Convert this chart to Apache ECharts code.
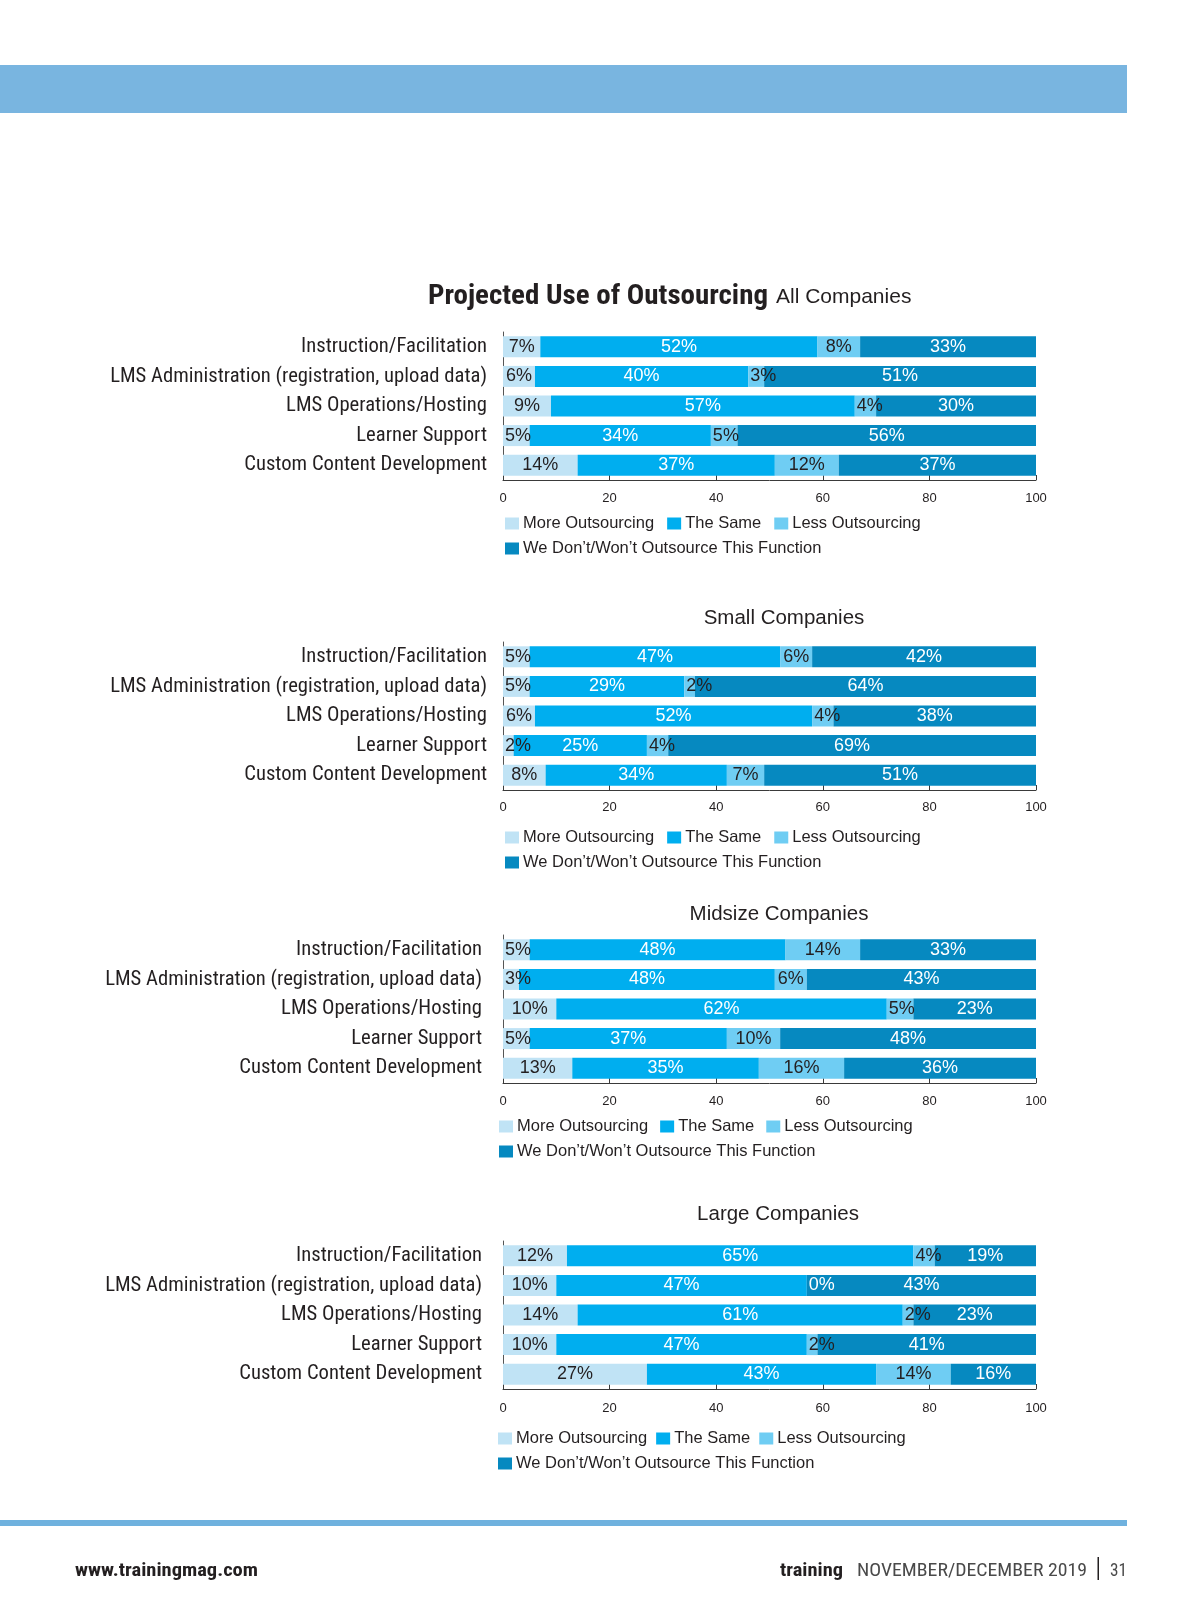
<!DOCTYPE html>
<html>
<head>
<meta charset="utf-8">
<script src="https://cdn.jsdelivr.net/npm/echarts@6/dist/echarts.min.js"></script>
<style>
html,body{margin:0;padding:0;background:#fff;}
#main{width:1200px;height:1613px;}
</style>
</head>
<body>
<div id="main"></div>
<script>
// ---------- data ----------
const categories = [
  'Instruction/Facilitation',
  'LMS Administration (registration, upload data)',
  'LMS Operations/Hosting',
  'Learner Support',
  'Custom Content Development'
];
const seriesNames = [
  'More Outsourcing',
  'The Same',
  'Less Outsourcing',
  'We Don\u2019t/Won\u2019t Outsource This Function'
];
const panelTitles = ['All Companies', 'Small Companies', 'Midsize Companies', 'Large Companies'];
const mainTitle = 'Projected Use of Outsourcing';
const xTicks = [0, 20, 40, 60, 80, 100];

const allMore  = [7, 6, 9, 5, 14];
const allSame  = [52, 40, 57, 34, 37];
const allLess  = [8, 3, 4, 5, 12];
const allDont  = [33, 51, 30, 56, 37];

const smallMore = [5, 5, 6, 2, 8];
const smallSame = [47, 29, 52, 25, 34];
const smallLess = [6, 2, 4, 4, 7];
const smallDont = [42, 64, 38, 69, 51];

const midMore = [5, 3, 10, 5, 13];
const midSame = [48, 48, 62, 37, 35];
const midLess = [14, 6, 5, 10, 16];
const midDont = [33, 43, 23, 48, 36];

const largeMore = [12, 10, 14, 10, 27];
const largeSame = [65, 47, 61, 47, 43];
const largeLess = [4, 0, 2, 2, 14];
const largeDont = [19, 43, 23, 41, 16];

const footerLeft = 'www.trainingmag.com';
const footerBrand = 'training';
const footerIssue = 'NOVEMBER/DECEMBER 2019';
const footerPage = '31';

// ---------- font helpers ----------
const ctx = document.createElement('canvas').getContext('2d');
function measure(text, font) { ctx.font = font; return ctx.measureText(text).width; }
function hasFont(f) {
  const probe = 'mmmmmmmmmmlliiWWQ@#';
  return measure(probe, '40px monospace') !== measure(probe, '40px "' + f + '", monospace');
}
const narrowName = ['Liberation Sans Narrow', 'Roboto Condensed', 'Open Sans Condensed', 'DejaVu Sans Condensed']
  .find(hasFont) || 'Liberation Sans';
const narrow = '"' + narrowName + '", sans-serif';
const sans = '"Liberation Sans", Arial, Helvetica, sans-serif';

// category label size fitted to the reference label width (377px for the longest)
const longest = categories.reduce((a, b) => (b.length > a.length ? b : a));
const catFont = Math.min(22, 22 * 377 / measure(longest, '22px ' + narrow));

function fitText(text, x, y, width, size, weight, family, fill) {
  const w = measure(text, weight + ' ' + size + 'px ' + family);
  return {
    type: 'text', x: x, y: y, scaleX: width / w, silent: true,
    style: {text: text, fontFamily: family, fontWeight: weight, fontSize: size, fill: fill, verticalAlign: 'middle'}
  };
}

// ---------- styles / layout ----------
const panels = [
  [allMore, allSame, allLess, allDont],
  [smallMore, smallSame, smallLess, smallDont],
  [midMore, midSame, midLess, midDont],
  [largeMore, largeSame, largeLess, largeDont]
];
const colors = ['#c0e3f5', '#00aeef', '#6fcdf3', '#0689c0'];
const labelColors = ['#231f20', '#ffffff', '#231f20', '#ffffff'];
const gridTops = [332, 642, 935, 1241];
const gridHeight = 148;
const gridLeft = 503, gridWidth = 533;
const catMargins = [16, 16, 21, 21];
const tickMargins = [12, 10.5, 11.5, 12.5];
const legendLefts = [505, 505, 499, 498];
const legendTops = [515, 829, 1118, 1430];
const legendGaps = [13, 13, 12, 9];
const legendRowGap = 25;
const subTitlePos = [null, [784, 608], [779, 904], [778, 1204]];

const grids = [], xAxes = [], yAxes = [], series = [], legends = [], titles = [];

const legendBase = {
  padding: 0, itemWidth: 14, itemHeight: 12, icon: 'rect', selectedMode: false,
  textStyle: {fontFamily: sans, fontSize: 16.5, color: '#231f20', padding: [0, 0, 0, -1]}
};

panels.forEach((vals, p) => {
  grids.push({left: gridLeft, top: gridTops[p], width: gridWidth, height: gridHeight});
  xAxes.push({
    gridIndex: p, type: 'value',
    min: xTicks[0], max: xTicks[xTicks.length - 1], interval: xTicks[1] - xTicks[0],
    axisLine: {show: true, lineStyle: {color: '#3a3a3a', width: 1}},
    axisTick: {show: true, inside: true, length: 5, lineStyle: {color: '#3a3a3a'}},
    splitLine: {show: false},
    axisLabel: {margin: tickMargins[p], fontFamily: sans, fontSize: 13, color: '#231f20'}
  });
  yAxes.push({
    gridIndex: p, type: 'category', data: categories, inverse: true,
    axisLine: {show: true, lineStyle: {color: '#555', width: 1}},
    axisTick: {show: false},
    axisLabel: {margin: catMargins[p], fontFamily: narrow, fontSize: catFont, color: '#231f20'}
  });
  vals.forEach((arr, s) => {
    series.push({
      type: 'bar', name: seriesNames[s], stack: 'panel' + p,
      xAxisIndex: p, yAxisIndex: p, barWidth: 21,
      // labels that do not fit in a narrow segment start at its left edge
      data: arr.map(v => (v <= 5
        ? {value: v, label: {position: 'insideLeft', distance: 2, color: v === 0 ? '#ffffff' : labelColors[s]}}
        : v)),
      itemStyle: {color: colors[s]},
      label: {show: true, position: 'inside', formatter: '{c}%',
              fontFamily: sans, fontSize: 18, color: labelColors[s]},
      emphasis: {disabled: true}
    });
  });
  legends.push(Object.assign({}, legendBase, {
    left: legendLefts[p], top: legendTops[p], itemGap: legendGaps[p], data: seriesNames.slice(0, 3)
  }));
  legends.push(Object.assign({}, legendBase, {
    left: legendLefts[p], top: legendTops[p] + legendRowGap, itemGap: legendGaps[p], data: seriesNames.slice(3)
  }));
  if (p > 0) {
    titles.push({
      text: panelTitles[p], left: subTitlePos[p][0], top: subTitlePos[p][1], textAlign: 'center', padding: 0,
      textStyle: {fontFamily: sans, fontSize: 20.5, fontWeight: 'normal', color: '#231f20'}
    });
  }
});

// "All Companies" subtitle follows the condensed bold main title
titles.push({
  text: panelTitles[0], left: 776, top: 287, padding: 0,
  textStyle: {fontFamily: sans, fontSize: 21, fontWeight: 'normal', color: '#231f20'}
});

const chart = echarts.init(document.getElementById('main'), null, {renderer: 'canvas'});
chart.setOption({
  animation: false,
  backgroundColor: '#ffffff',
  title: titles,
  grid: grids,
  xAxis: xAxes,
  yAxis: yAxes,
  legend: legends,
  series: series,
  graphic: [
    {type: 'rect', shape: {x: 0, y: 65, width: 1127, height: 48}, style: {fill: '#79b5e0'}, silent: true},
    {type: 'rect', shape: {x: 0, y: 1520, width: 1127, height: 6}, style: {fill: '#6fb1de'}, silent: true},
    fitText(mainTitle, 428, 297, 340, 27, 'bold', narrow, '#231f20'),
    fitText(footerLeft, 75, 1571, 183, 18, 'bold', narrow, '#231f20'),
    fitText(footerBrand, 780, 1571, 63, 19, 'bold', narrow, '#231f20'),
    fitText(footerIssue, 857, 1571, 230, 18, 'normal', narrow, '#4a4a4a'),
    {type: 'rect', shape: {x: 1097.5, y: 1557, width: 1.5, height: 23}, style: {fill: '#231f20'}, silent: true},
    fitText(footerPage, 1110, 1571, 17, 18, 'normal', narrow, '#4a4a4a')
  ]
});
</script>
</body>
</html>
